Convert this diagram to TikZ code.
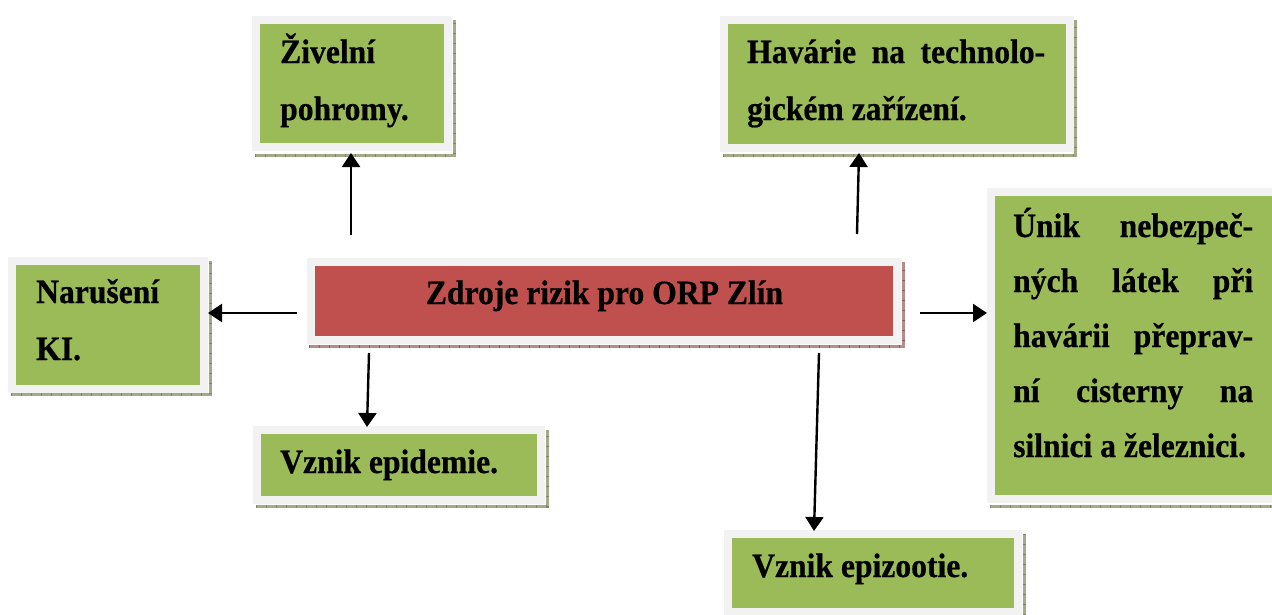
\documentclass[tikz,border=0pt]{standalone}
\usepackage{fontspec}
\setmainfont{Liberation Serif}[FakeStretch=0.93, BoldFeatures={FakeBold=0.6}]
\usetikzlibrary{arrows.meta}
\definecolor{boxgreen}{HTML}{9BBB59}
\definecolor{boxred}{HTML}{C0504D}
\definecolor{framegray}{HTML}{F2F2F2}
\definecolor{gshadow}{HTML}{A3AA8A}
\definecolor{gtick}{HTML}{7E8766}
\definecolor{rshadow}{HTML}{B48C8A}
\definecolor{rtick}{HTML}{8E5E5B}
\tikzset{
  frame/.style={draw=framegray, line width=8pt, inner sep=0pt, outer sep=4pt, anchor=north west},
  gbox/.style={frame, fill=boxgreen},
  rbox/.style={frame, fill=boxred},
  gshad/.style={draw=gshadow, line width=3pt, postaction={draw=gtick, line width=3pt, dash pattern=on 1pt off 9pt}},
  rshad/.style={draw=rshadow, line width=3pt, postaction={draw=rtick, line width=3pt, dash pattern=on 1pt off 9pt}},
  lbl/.style={inner sep=0pt, anchor=base west, font=\bfseries\fontsize{34}{57}\selectfont},
  arr/.style={-{Triangle[width=18pt,length=14pt]}, line width=2.4pt},
}
\begin{document}
\begin{tikzpicture}[x=1pt,y=-1pt]
\useasboundingbox (0,0) rectangle (1272,614);
\clip (0,0) rectangle (1272,614);
% shadows
\draw[gshad] (255,155) -- (454,155) -- (454,20);
\draw[gshad] (723,155.5) -- (1075.5,155.5) -- (1075.5,20);
\draw[rshad] (309,346.5) -- (903,346.5) -- (903,262);
\draw[gshad] (11,394.5) -- (210,394.5) -- (210,261);
\draw[gshad] (256,506) -- (547,506) -- (547,430);
\draw[gshad] (990,506.5) -- (1290,506.5);
\draw[gshad] (1024,534) -- (1024,620);
% boxes
\node[gbox, minimum width=192pt, minimum height=126.5pt] (ziv) at (252,16) {};
\node[gbox, minimum width=345.5pt, minimum height=128pt] (hav) at (720,16) {};
\node[rbox, minimum width=586pt, minimum height=77.5pt] (zdr) at (307,258) {};
\node[gbox, minimum width=192pt, minimum height=127.5pt] (nar) at (8,257) {};
\node[gbox, minimum width=284.5pt, minimum height=69.5pt] (epi) at (252.5,426) {};
\node[gbox, minimum width=300pt, minimum height=306.5pt] (uni) at (987,188) {};
\node[gbox, minimum width=290pt, minimum height=78pt] (epz) at (724,530) {};
% texts
\node[lbl] (zivT) at (280,63) {\parbox[t]{200pt}{Živelní\\pohromy.}};
\node[lbl] (havT) at (747,63) {\parbox[t]{300pt}{\makebox[298pt][s]{Havárie na technolo-}\\gickém zařízení.}};
\node[lbl, anchor=base] (zdrT) at (604.5,304) {Zdroje rizik pro ORP Zlín};
\node[lbl] (narT) at (36,303) {\parbox[t]{170pt}{Narušení\\KI.}};
\node[lbl] (epiT) at (280,473) {Vznik epidemie.};
\node[lbl, font=\bfseries\fontsize{34}{55}\selectfont] (uniT) at (1013,237) {\parbox[t]{240pt}{%
  \makebox[240pt][s]{Únik nebezpeč-}\\
  \makebox[240pt][s]{ných látek při}\\
  \makebox[240pt][s]{havárii přeprav-}\\
  \makebox[240pt][s]{ní cisterny na}\\
  silnici a železnici.}};
\node[lbl] (epzT) at (752,577) {Vznik epizootie.};
% connector points
\coordinate (s1) at (351,235); \coordinate (e1) at (351,153);
\coordinate (s2) at (857,234); \coordinate (e2) at (859,153);
\coordinate (s3) at (297,313); \coordinate (e3) at (208,313);
\coordinate (s4) at (920,313); \coordinate (e4) at (987,313);
\coordinate (s5) at (369,353); \coordinate (e5) at (367,427);
\coordinate (s6) at (819,353); \coordinate (e6) at (814,531);
\draw[arr] (s1) -- (e1);
\draw[arr] (s2) -- (e2);
\draw[arr] (s3) -- (e3);
\draw[arr] (s4) -- (e4);
\draw[arr] (s5) -- (e5);
\draw[arr] (s6) -- (e6);
\end{tikzpicture}
\end{document}
